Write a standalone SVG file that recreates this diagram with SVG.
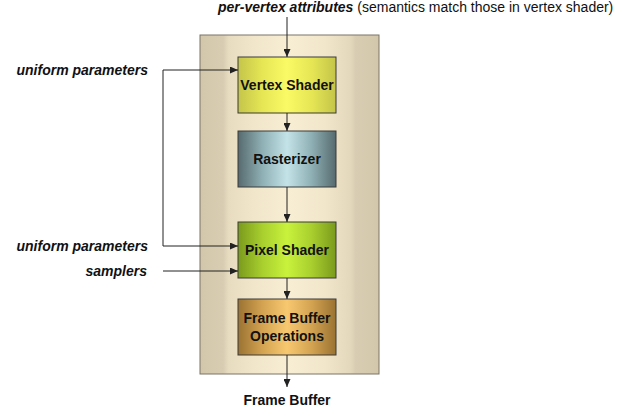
<svg xmlns="http://www.w3.org/2000/svg" width="628" height="412" viewBox="0 0 628 412">
<defs>
<style>
text{font-family:"Liberation Sans",Arial,sans-serif;font-size:14px;fill:#111}
.b{font-weight:bold}
.bi{font-weight:bold;font-style:italic}
.box{stroke:#3a3a3a;stroke-width:1}
.c{stroke:#222;stroke-width:1;fill:none;marker-end:url(#ah)}
</style>
<marker id="ah" markerWidth="8" markerHeight="7" refX="8" refY="3.5" orient="auto" markerUnits="userSpaceOnUse">
<path d="M0,0 L8,3.5 L0,7 z" fill="#222"/>
</marker>
<linearGradient id="gC" x1="0" x2="1" y1="0" y2="0">
<stop offset="0" stop-color="#d3c7ab"/><stop offset="0.13" stop-color="#d8cdb2"/><stop offset="0.16" stop-color="#e8dcc0"/><stop offset="0.3" stop-color="#f1e6ca"/><stop offset="0.5" stop-color="#f8eed4"/><stop offset="0.7" stop-color="#f1e6ca"/><stop offset="0.84" stop-color="#e4d8bc"/><stop offset="0.87" stop-color="#d8cdb2"/><stop offset="1" stop-color="#d3c7ab"/>
</linearGradient>
<linearGradient id="gV" x1="0" x2="1" y1="0" y2="0">
<stop offset="0" stop-color="#c4c44a"/><stop offset="0.25" stop-color="#e6e655"/><stop offset="0.5" stop-color="#fafa66"/><stop offset="0.75" stop-color="#e6e655"/><stop offset="1" stop-color="#c4c44a"/>
</linearGradient>
<linearGradient id="gR" x1="0" x2="1" y1="0" y2="0">
<stop offset="0" stop-color="#566a6e"/><stop offset="0.25" stop-color="#8fb0b5"/><stop offset="0.5" stop-color="#c3e3e8"/><stop offset="0.75" stop-color="#8fb0b5"/><stop offset="1" stop-color="#566a6e"/>
</linearGradient>
<linearGradient id="gP" x1="0" x2="1" y1="0" y2="0">
<stop offset="0" stop-color="#7a9a1c"/><stop offset="0.25" stop-color="#a8cf2e"/><stop offset="0.5" stop-color="#c8f23c"/><stop offset="0.75" stop-color="#a8cf2e"/><stop offset="1" stop-color="#7a9a1c"/>
</linearGradient>
<linearGradient id="gF" x1="0" x2="1" y1="0" y2="0">
<stop offset="0" stop-color="#9a7232"/><stop offset="0.25" stop-color="#d4a352"/><stop offset="0.5" stop-color="#f8c870"/><stop offset="0.75" stop-color="#d4a352"/><stop offset="1" stop-color="#9a7232"/>
</linearGradient>
</defs>

<g id="container">
<rect x="200" y="35" width="179" height="339" fill="url(#gC)" stroke="#7a7468" stroke-width="1"/>
</g>

<g id="vertex-shader">
<rect class="box" x="238" y="57" width="98" height="56" fill="url(#gV)"/>
<text class="b" x="287" y="90" text-anchor="middle">Vertex Shader</text>
</g>
<g id="rasterizer">
<rect class="box" x="238" y="131" width="98" height="56" fill="url(#gR)"/>
<text class="b" x="287" y="164" text-anchor="middle">Rasterizer</text>
</g>
<g id="pixel-shader">
<rect class="box" x="238" y="222" width="98" height="56" fill="url(#gP)"/>
<text class="b" x="287" y="255" text-anchor="middle">Pixel Shader</text>
</g>
<g id="frame-buffer-ops">
<rect class="box" x="238" y="299" width="98" height="56" fill="url(#gF)"/>
<text class="b" x="287" y="323" text-anchor="middle">Frame Buffer</text>
<text class="b" x="287" y="341" text-anchor="middle">Operations</text>
</g>

<g id="labels">
<text x="218" y="12"><tspan class="bi">per-vertex attributes</tspan> (semantics match those in vertex shader)</text>
<text class="bi" x="148" y="75" text-anchor="end">uniform parameters</text>
<text class="bi" x="148" y="251" text-anchor="end">uniform parameters</text>
<text class="bi" x="147" y="276" text-anchor="end">samplers</text>
<text class="b" x="287" y="405" text-anchor="middle">Frame Buffer</text>
</g>

<g id="connectors">
<path class="c" d="M287,17 V57"/>
<path class="c" d="M287,113 V131"/>
<path class="c" d="M287,187 V222"/>
<path class="c" d="M287,278 V299"/>
<path class="c" d="M287,355 V387"/>
<path class="c" d="M163,70 H238"/>
<path class="c" d="M163,70 V246 H238"/>
<path class="c" d="M163,271 H238"/>
</g>
</svg>
